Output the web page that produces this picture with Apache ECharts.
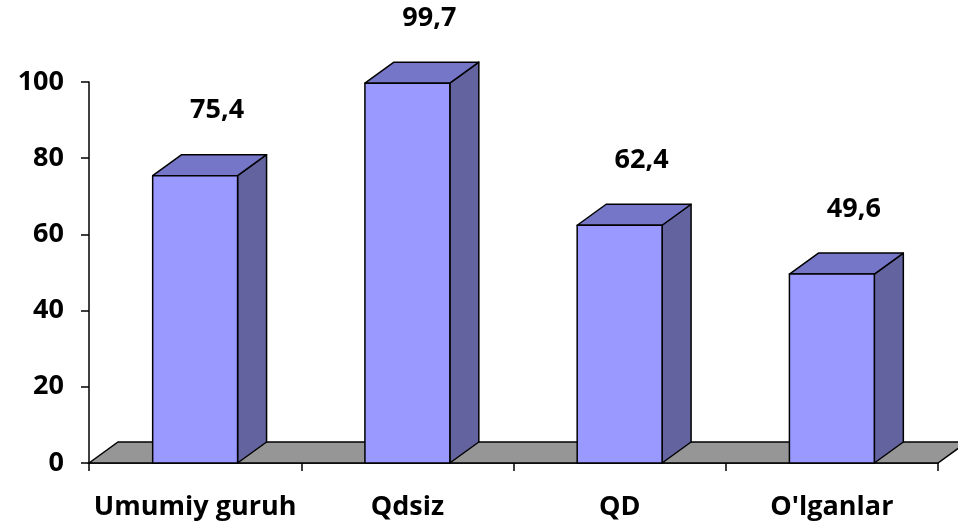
<!DOCTYPE html>
<html>
<head>
<meta charset="utf-8">
<script src="https://cdn.jsdelivr.net/npm/echarts@6/dist/echarts.min.js"></script>
<style>
  html, body { margin: 0; padding: 0; background: #fff; }
  #chart { width: 958px; height: 521px; }
</style>
</head>
<body>
<div id="chart"></div>
<script>
// Group names and their values
const categories = ['Umumiy guruh', 'Qdsiz', 'QD', "O'lganlar"];
const values = [75.4, 99.7, 62.4, 49.6];
const valueLabels = ['75,4', '99,7', '62,4', '49,6'];

// Oblique depth used for the pseudo-3D look
const DEPTH_X = 29;
const DEPTH_Y = 21;
const FONT = '"Open Sans", "Noto Sans", sans-serif';
const FONT_SIZE = 27;

const chart = echarts.init(document.getElementById('chart'));

function renderFloor(params, api) {
  const cs = params.coordSys;
  const yb = cs.y + cs.height;
  return {
    type: 'polygon',
    shape: {
      points: [
        [cs.x, yb],
        [cs.x + DEPTH_X, yb - DEPTH_Y],
        [cs.x + cs.width + DEPTH_X, yb - DEPTH_Y],
        [cs.x + cs.width, yb]
      ]
    },
    style: { fill: '#969696', stroke: '#000', lineWidth: 1.5 }
  };
}

function renderBar(params, api) {
  const idx = api.value(0);
  const val = api.value(1);
  const top = api.coord([idx, val]);
  const base = api.coord([idx, 0]);
  const band = api.size([1, 0])[0];
  const w = band * 0.4;
  const x0 = top[0] - w / 2;
  const x1 = top[0] + w / 2;
  const yt = top[1];
  const yb = base[1];
  const edge = { stroke: '#000', lineWidth: 1.5, lineJoin: 'round' };
  return {
    type: 'group',
    children: [
      {
        type: 'polygon',
        shape: { points: [[x1, yt], [x1 + DEPTH_X, yt - DEPTH_Y], [x1 + DEPTH_X, yb - DEPTH_Y], [x1, yb]] },
        style: Object.assign({ fill: '#63639F' }, edge)
      },
      {
        type: 'polygon',
        shape: { points: [[x0, yt], [x0 + DEPTH_X, yt - DEPTH_Y], [x1 + DEPTH_X, yt - DEPTH_Y], [x1, yt]] },
        style: Object.assign({ fill: '#7676C8' }, edge)
      },
      {
        type: 'rect',
        shape: { x: x0, y: yt, width: w, height: yb - yt },
        style: Object.assign({ fill: '#9999FF' }, edge)
      },
      {
        type: 'text',
        x: top[0] + 22,
        y: yt - 65,
        style: {
          text: valueLabels[params.dataIndex],
          fill: '#000',
          font: 'bold ' + FONT_SIZE + 'px ' + FONT,
          align: 'center',
          verticalAlign: 'middle'
        }
      }
    ]
  };
}

chart.setOption({
  animation: false,
  backgroundColor: '#fff',
  grid: { left: 89, right: 20, top: 82, bottom: 58 },
  xAxis: {
    type: 'category',
    data: categories,
    boundaryGap: true,
    axisLine: { lineStyle: { color: '#000', width: 1.5 } },
    axisTick: { show: true, length: 8, alignWithLabel: false, lineStyle: { color: '#000', width: 1.5 } },
    axisLabel: { color: '#000', fontFamily: FONT, fontWeight: 'bold', fontSize: FONT_SIZE, margin: 31, interval: 0 },
    splitLine: { show: false }
  },
  yAxis: {
    type: 'value',
    min: 0,
    max: 100,
    interval: 20,
    axisLine: { show: true, lineStyle: { color: '#000', width: 1.5 } },
    axisTick: { show: true, length: 8, lineStyle: { color: '#000', width: 1.5 } },
    axisLabel: { color: '#000', fontFamily: FONT, fontWeight: 'bold', fontSize: FONT_SIZE, margin: 25 },
    splitLine: { show: false }
  },
  series: [
    {
      type: 'custom',
      renderItem: renderFloor,
      data: [[0, 0]],
      encode: { x: 0, y: 1 },
      z: 1,
      silent: true
    },
    {
      type: 'custom',
      renderItem: renderBar,
      data: values.map((v, i) => [i, v]),
      encode: { x: 0, y: 1 },
      z: 2
    }
  ]
});
</script>
</body>
</html>
